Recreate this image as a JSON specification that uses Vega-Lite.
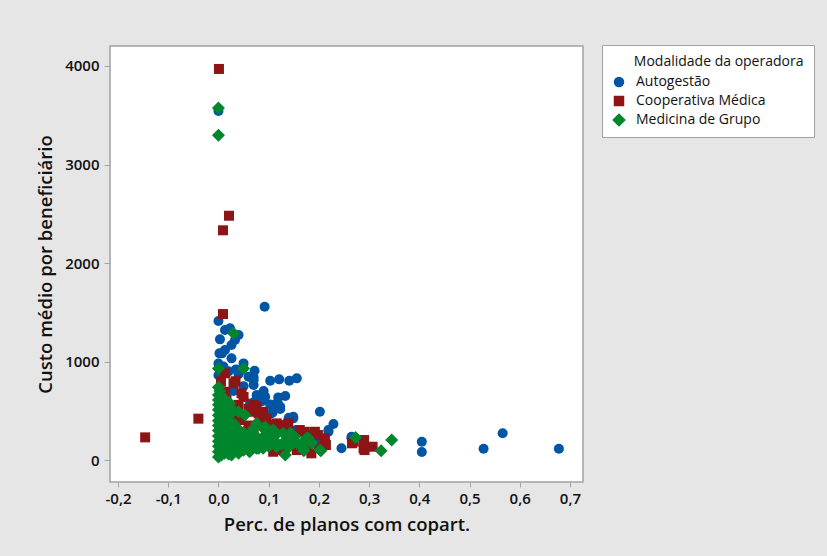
{
  "$schema": "https://vega.github.io/schema/vega-lite/v6.json",
  "width": 473,
  "height": 436,
  "autosize": {"type": "none"},
  "padding": {"left": 110, "top": 46, "right": 244, "bottom": 74},
  "background": "#e6e6e6",
  "config": {
    "font": "Open Sans",
    "view": {"fill": "white", "stroke": "#a3a3a3", "strokeWidth": 1.5}
  },
  "datasets": {
    "pts": [
      {"x": 0.0, "y": 3543, "m": "Autogestão"},
      {"x": 0.092, "y": 1556, "m": "Autogestão"},
      {"x": 0.0, "y": 1411, "m": "Autogestão"},
      {"x": 0.013, "y": 1320, "m": "Autogestão"},
      {"x": 0.023, "y": 1337, "m": "Autogestão"},
      {"x": 0.04, "y": 1269, "m": "Autogestão"},
      {"x": 0.003, "y": 1225, "m": "Autogestão"},
      {"x": 0.033, "y": 1218, "m": "Autogestão"},
      {"x": 0.013, "y": 1117, "m": "Autogestão"},
      {"x": 0.026, "y": 1168, "m": "Autogestão"},
      {"x": 0.002, "y": 1083, "m": "Autogestão"},
      {"x": 0.007, "y": 1083, "m": "Autogestão"},
      {"x": 0.026, "y": 1032, "m": "Autogestão"},
      {"x": 0.05, "y": 981, "m": "Autogestão"},
      {"x": 0.0, "y": 980, "m": "Autogestão"},
      {"x": 0.072, "y": 906, "m": "Autogestão"},
      {"x": 0.07, "y": 840, "m": "Autogestão"},
      {"x": 0.06, "y": 846, "m": "Autogestão"},
      {"x": 0.07, "y": 812, "m": "Autogestão"},
      {"x": 0.07, "y": 761, "m": "Autogestão"},
      {"x": 0.103, "y": 805, "m": "Autogestão"},
      {"x": 0.121, "y": 819, "m": "Autogestão"},
      {"x": 0.141, "y": 805, "m": "Autogestão"},
      {"x": 0.156, "y": 829, "m": "Autogestão"},
      {"x": 0.076, "y": 660, "m": "Autogestão"},
      {"x": 0.093, "y": 643, "m": "Autogestão"},
      {"x": 0.119, "y": 636, "m": "Autogestão"},
      {"x": 0.133, "y": 650, "m": "Autogestão"},
      {"x": 0.087, "y": 598, "m": "Autogestão"},
      {"x": 0.074, "y": 605, "m": "Autogestão"},
      {"x": 0.103, "y": 565, "m": "Autogestão"},
      {"x": 0.118, "y": 580, "m": "Autogestão"},
      {"x": 0.113, "y": 558, "m": "Autogestão"},
      {"x": 0.123, "y": 541, "m": "Autogestão"},
      {"x": 0.106, "y": 474, "m": "Autogestão"},
      {"x": 0.108, "y": 484, "m": "Autogestão"},
      {"x": 0.123, "y": 518, "m": "Autogestão"},
      {"x": 0.063, "y": 575, "m": "Autogestão"},
      {"x": 0.149, "y": 440, "m": "Autogestão"},
      {"x": 0.149, "y": 423, "m": "Autogestão"},
      {"x": 0.14, "y": 430, "m": "Autogestão"},
      {"x": 0.202, "y": 490, "m": "Autogestão"},
      {"x": 0.229, "y": 365, "m": "Autogestão"},
      {"x": 0.219, "y": 287, "m": "Autogestão"},
      {"x": 0.219, "y": 305, "m": "Autogestão"},
      {"x": 0.245, "y": 119, "m": "Autogestão"},
      {"x": 0.265, "y": 237, "m": "Autogestão"},
      {"x": 0.265, "y": 220, "m": "Autogestão"},
      {"x": 0.405, "y": 186, "m": "Autogestão"},
      {"x": 0.405, "y": 81, "m": "Autogestão"},
      {"x": 0.528, "y": 115, "m": "Autogestão"},
      {"x": 0.566, "y": 271, "m": "Autogestão"},
      {"x": 0.678, "y": 115, "m": "Autogestão"},
      {"x": 0.02, "y": 900, "m": "Autogestão"},
      {"x": 0.04, "y": 870, "m": "Autogestão"},
      {"x": 0.01, "y": 950, "m": "Autogestão"},
      {"x": 0.03, "y": 700, "m": "Autogestão"},
      {"x": 0.05, "y": 750, "m": "Autogestão"},
      {"x": 0.09, "y": 700, "m": "Autogestão"},
      {"x": 0.1, "y": 360, "m": "Autogestão"},
      {"x": 0.18, "y": 250, "m": "Autogestão"},
      {"x": 0.2, "y": 200, "m": "Autogestão"},
      {"x": 0.15, "y": 300, "m": "Autogestão"},
      {"x": 0.0, "y": 860, "m": "Autogestão"},
      {"x": 0.035, "y": 920, "m": "Autogestão"},

      {"x": 0.001, "y": 3970, "m": "Cooperativa Médica"},
      {"x": 0.021, "y": 2480, "m": "Cooperativa Médica"},
      {"x": 0.009, "y": 2332, "m": "Cooperativa Médica"},
      {"x": 0.009, "y": 1482, "m": "Cooperativa Médica"},
      {"x": -0.04, "y": 420, "m": "Cooperativa Médica"},
      {"x": -0.146, "y": 230, "m": "Cooperativa Médica"},
      {"x": 0.034, "y": 800, "m": "Cooperativa Médica"},
      {"x": 0.013, "y": 880, "m": "Cooperativa Médica"},
      {"x": 0.005, "y": 795, "m": "Cooperativa Médica"},
      {"x": 0.013, "y": 693, "m": "Cooperativa Médica"},
      {"x": 0.03, "y": 778, "m": "Cooperativa Médica"},
      {"x": 0.046, "y": 677, "m": "Cooperativa Médica"},
      {"x": 0.05, "y": 640, "m": "Cooperativa Médica"},
      {"x": 0.016, "y": 609, "m": "Cooperativa Médica"},
      {"x": 0.003, "y": 560, "m": "Cooperativa Médica"},
      {"x": 0.02, "y": 520, "m": "Cooperativa Médica"},
      {"x": 0.04, "y": 560, "m": "Cooperativa Médica"},
      {"x": 0.008, "y": 460, "m": "Cooperativa Médica"},
      {"x": 0.03, "y": 450, "m": "Cooperativa Médica"},
      {"x": 0.06, "y": 520, "m": "Cooperativa Médica"},
      {"x": 0.07, "y": 558, "m": "Cooperativa Médica"},
      {"x": 0.076, "y": 540, "m": "Cooperativa Médica"},
      {"x": 0.075, "y": 512, "m": "Cooperativa Médica"},
      {"x": 0.063, "y": 490, "m": "Cooperativa Médica"},
      {"x": 0.089, "y": 490, "m": "Cooperativa Médica"},
      {"x": 0.08, "y": 474, "m": "Cooperativa Médica"},
      {"x": 0.043, "y": 406, "m": "Cooperativa Médica"},
      {"x": 0.089, "y": 406, "m": "Cooperativa Médica"},
      {"x": 0.096, "y": 420, "m": "Cooperativa Médica"},
      {"x": 0.116, "y": 372, "m": "Cooperativa Médica"},
      {"x": 0.139, "y": 372, "m": "Cooperativa Médica"},
      {"x": 0.129, "y": 338, "m": "Cooperativa Médica"},
      {"x": 0.162, "y": 305, "m": "Cooperativa Médica"},
      {"x": 0.172, "y": 287, "m": "Cooperativa Médica"},
      {"x": 0.192, "y": 287, "m": "Cooperativa Médica"},
      {"x": 0.178, "y": 254, "m": "Cooperativa Médica"},
      {"x": 0.198, "y": 254, "m": "Cooperativa Médica"},
      {"x": 0.212, "y": 220, "m": "Cooperativa Médica"},
      {"x": 0.176, "y": 203, "m": "Cooperativa Médica"},
      {"x": 0.214, "y": 152, "m": "Cooperativa Médica"},
      {"x": 0.185, "y": 68, "m": "Cooperativa Médica"},
      {"x": 0.269, "y": 186, "m": "Cooperativa Médica"},
      {"x": 0.289, "y": 186, "m": "Cooperativa Médica"},
      {"x": 0.266, "y": 170, "m": "Cooperativa Médica"},
      {"x": 0.29, "y": 203, "m": "Cooperativa Médica"},
      {"x": 0.289, "y": 119, "m": "Cooperativa Médica"},
      {"x": 0.291, "y": 101, "m": "Cooperativa Médica"},
      {"x": 0.307, "y": 135, "m": "Cooperativa Médica"},
      {"x": 0.109, "y": 84, "m": "Cooperativa Médica"},
      {"x": 0.063, "y": 119, "m": "Cooperativa Médica"},
      {"x": 0.04, "y": 101, "m": "Cooperativa Médica"},
      {"x": 0.156, "y": 101, "m": "Cooperativa Médica"},
      {"x": 0.176, "y": 119, "m": "Cooperativa Médica"},
      {"x": 0.123, "y": 101, "m": "Cooperativa Médica"},
      {"x": 0.05, "y": 135, "m": "Cooperativa Médica"},
      {"x": 0.111, "y": 355, "m": "Cooperativa Médica"},
      {"x": 0.134, "y": 355, "m": "Cooperativa Médica"},
      {"x": 0.124, "y": 305, "m": "Cooperativa Médica"},
      {"x": 0.06, "y": 350, "m": "Cooperativa Médica"},
      {"x": 0.07, "y": 300, "m": "Cooperativa Médica"},
      {"x": 0.02, "y": 300, "m": "Cooperativa Médica"},
      {"x": 0.01, "y": 250, "m": "Cooperativa Médica"},
      {"x": 0.1, "y": 250, "m": "Cooperativa Médica"},
      {"x": 0.14, "y": 200, "m": "Cooperativa Médica"},
      {"x": 0.09, "y": 150, "m": "Cooperativa Médica"},
      {"x": 0.025, "y": 180, "m": "Cooperativa Médica"},
      {"x": 0.06, "y": 220, "m": "Cooperativa Médica"},
      {"x": 0.16, "y": 150, "m": "Cooperativa Médica"},
      {"x": 0.2, "y": 130, "m": "Cooperativa Médica"},

      {"x": 0.0, "y": 3574, "m": "Medicina de Grupo"},
      {"x": 0.0, "y": 3296, "m": "Medicina de Grupo"},
      {"x": 0.03, "y": 1286, "m": "Medicina de Grupo"},
      {"x": 0.0, "y": 930, "m": "Medicina de Grupo"},
      {"x": 0.05, "y": 930, "m": "Medicina de Grupo"},
      {"x": 0.0, "y": 738, "m": "Medicina de Grupo"},
      {"x": 0.273, "y": 230, "m": "Medicina de Grupo"},
      {"x": 0.345, "y": 203, "m": "Medicina de Grupo"},
      {"x": 0.324, "y": 95, "m": "Medicina de Grupo"},
      {"x": 0.204, "y": 95, "m": "Medicina de Grupo"},
      {"x": 0.133, "y": 51, "m": "Medicina de Grupo"},
      {"x": 0.17, "y": 95, "m": "Medicina de Grupo"},
      {"x": 0.023, "y": 68, "m": "Medicina de Grupo"},
      {"x": 0.0, "y": 30, "m": "Medicina de Grupo"},
      {"x": 0.0, "y": 85, "m": "Medicina de Grupo"},
      {"x": 0.0, "y": 140, "m": "Medicina de Grupo"},
      {"x": 0.0, "y": 190, "m": "Medicina de Grupo"},
      {"x": 0.0, "y": 245, "m": "Medicina de Grupo"},
      {"x": 0.0, "y": 300, "m": "Medicina de Grupo"},
      {"x": 0.0, "y": 350, "m": "Medicina de Grupo"},
      {"x": 0.0, "y": 400, "m": "Medicina de Grupo"},
      {"x": 0.0, "y": 455, "m": "Medicina de Grupo"},
      {"x": 0.0, "y": 510, "m": "Medicina de Grupo"},
      {"x": 0.0, "y": 560, "m": "Medicina de Grupo"},
      {"x": 0.0, "y": 610, "m": "Medicina de Grupo"},
      {"x": 0.0, "y": 660, "m": "Medicina de Grupo"},
      {"x": 0.003, "y": 700, "m": "Medicina de Grupo"},
      {"x": 0.006, "y": 50, "m": "Medicina de Grupo"},
      {"x": 0.006, "y": 110, "m": "Medicina de Grupo"},
      {"x": 0.006, "y": 165, "m": "Medicina de Grupo"},
      {"x": 0.006, "y": 220, "m": "Medicina de Grupo"},
      {"x": 0.006, "y": 275, "m": "Medicina de Grupo"},
      {"x": 0.006, "y": 330, "m": "Medicina de Grupo"},
      {"x": 0.006, "y": 385, "m": "Medicina de Grupo"},
      {"x": 0.006, "y": 440, "m": "Medicina de Grupo"},
      {"x": 0.006, "y": 495, "m": "Medicina de Grupo"},
      {"x": 0.006, "y": 545, "m": "Medicina de Grupo"},
      {"x": 0.006, "y": 600, "m": "Medicina de Grupo"},
      {"x": 0.006, "y": 650, "m": "Medicina de Grupo"},
      {"x": 0.012, "y": 70, "m": "Medicina de Grupo"},
      {"x": 0.012, "y": 130, "m": "Medicina de Grupo"},
      {"x": 0.012, "y": 185, "m": "Medicina de Grupo"},
      {"x": 0.012, "y": 240, "m": "Medicina de Grupo"},
      {"x": 0.012, "y": 290, "m": "Medicina de Grupo"},
      {"x": 0.012, "y": 345, "m": "Medicina de Grupo"},
      {"x": 0.012, "y": 400, "m": "Medicina de Grupo"},
      {"x": 0.012, "y": 450, "m": "Medicina de Grupo"},
      {"x": 0.012, "y": 505, "m": "Medicina de Grupo"},
      {"x": 0.012, "y": 555, "m": "Medicina de Grupo"},
      {"x": 0.012, "y": 620, "m": "Medicina de Grupo"},
      {"x": 0.02, "y": 60, "m": "Medicina de Grupo"},
      {"x": 0.02, "y": 120, "m": "Medicina de Grupo"},
      {"x": 0.02, "y": 175, "m": "Medicina de Grupo"},
      {"x": 0.02, "y": 230, "m": "Medicina de Grupo"},
      {"x": 0.02, "y": 285, "m": "Medicina de Grupo"},
      {"x": 0.02, "y": 340, "m": "Medicina de Grupo"},
      {"x": 0.02, "y": 395, "m": "Medicina de Grupo"},
      {"x": 0.02, "y": 450, "m": "Medicina de Grupo"},
      {"x": 0.022, "y": 580, "m": "Medicina de Grupo"},
      {"x": 0.03, "y": 90, "m": "Medicina de Grupo"},
      {"x": 0.03, "y": 150, "m": "Medicina de Grupo"},
      {"x": 0.03, "y": 205, "m": "Medicina de Grupo"},
      {"x": 0.03, "y": 260, "m": "Medicina de Grupo"},
      {"x": 0.03, "y": 315, "m": "Medicina de Grupo"},
      {"x": 0.03, "y": 370, "m": "Medicina de Grupo"},
      {"x": 0.03, "y": 500, "m": "Medicina de Grupo"},
      {"x": 0.04, "y": 70, "m": "Medicina de Grupo"},
      {"x": 0.04, "y": 130, "m": "Medicina de Grupo"},
      {"x": 0.04, "y": 190, "m": "Medicina de Grupo"},
      {"x": 0.04, "y": 250, "m": "Medicina de Grupo"},
      {"x": 0.04, "y": 310, "m": "Medicina de Grupo"},
      {"x": 0.04, "y": 490, "m": "Medicina de Grupo"},
      {"x": 0.05, "y": 100, "m": "Medicina de Grupo"},
      {"x": 0.05, "y": 160, "m": "Medicina de Grupo"},
      {"x": 0.05, "y": 220, "m": "Medicina de Grupo"},
      {"x": 0.05, "y": 280, "m": "Medicina de Grupo"},
      {"x": 0.053, "y": 457, "m": "Medicina de Grupo"},
      {"x": 0.062, "y": 85, "m": "Medicina de Grupo"},
      {"x": 0.062, "y": 145, "m": "Medicina de Grupo"},
      {"x": 0.062, "y": 205, "m": "Medicina de Grupo"},
      {"x": 0.062, "y": 265, "m": "Medicina de Grupo"},
      {"x": 0.07, "y": 322, "m": "Medicina de Grupo"},
      {"x": 0.076, "y": 119, "m": "Medicina de Grupo"},
      {"x": 0.075, "y": 180, "m": "Medicina de Grupo"},
      {"x": 0.075, "y": 240, "m": "Medicina de Grupo"},
      {"x": 0.076, "y": 372, "m": "Medicina de Grupo"},
      {"x": 0.089, "y": 119, "m": "Medicina de Grupo"},
      {"x": 0.088, "y": 170, "m": "Medicina de Grupo"},
      {"x": 0.088, "y": 230, "m": "Medicina de Grupo"},
      {"x": 0.089, "y": 322, "m": "Medicina de Grupo"},
      {"x": 0.093, "y": 338, "m": "Medicina de Grupo"},
      {"x": 0.1, "y": 140, "m": "Medicina de Grupo"},
      {"x": 0.1, "y": 200, "m": "Medicina de Grupo"},
      {"x": 0.1, "y": 260, "m": "Medicina de Grupo"},
      {"x": 0.109, "y": 305, "m": "Medicina de Grupo"},
      {"x": 0.116, "y": 135, "m": "Medicina de Grupo"},
      {"x": 0.113, "y": 190, "m": "Medicina de Grupo"},
      {"x": 0.113, "y": 250, "m": "Medicina de Grupo"},
      {"x": 0.126, "y": 160, "m": "Medicina de Grupo"},
      {"x": 0.129, "y": 271, "m": "Medicina de Grupo"},
      {"x": 0.14, "y": 130, "m": "Medicina de Grupo"},
      {"x": 0.143, "y": 271, "m": "Medicina de Grupo"},
      {"x": 0.14, "y": 200, "m": "Medicina de Grupo"},
      {"x": 0.152, "y": 237, "m": "Medicina de Grupo"},
      {"x": 0.156, "y": 170, "m": "Medicina de Grupo"},
      {"x": 0.166, "y": 170, "m": "Medicina de Grupo"},
      {"x": 0.176, "y": 220, "m": "Medicina de Grupo"},
      {"x": 0.179, "y": 220, "m": "Medicina de Grupo"},
      {"x": 0.186, "y": 170, "m": "Medicina de Grupo"},
      {"x": 0.169, "y": 119, "m": "Medicina de Grupo"},
      {"x": 0.202, "y": 101, "m": "Medicina de Grupo"},
      {"x": 0.026, "y": 51, "m": "Medicina de Grupo"},
      {"x": 0.08, "y": 119, "m": "Medicina de Grupo"}
    ]
  },
  "data": {"name": "pts"},
  "mark": {"type": "point", "filled": true, "opacity": 1, "strokeWidth": 0, "size": 100},
  "encoding": {
    "x": {
      "field": "x",
      "type": "quantitative",
      "scale": {"domain": [-0.216, 0.726], "nice": false, "zero": false},
      "axis": {
        "values": [-0.2, -0.1, 0, 0.1, 0.2, 0.3, 0.4, 0.5, 0.6, 0.7],
        "labelExpr": "replace(replace(format(datum.value, '.1f'), '.', ','), '\u2212', '-')",
        "domain": false,
        "grid": false,
        "tickColor": "#a3a3a3",
        "tickSize": 5,
        "labelFontSize": 15,
        "labelFontWeight": 600,
        "labelColor": "#111111",
        "labelPadding": 4,
        "title": "Perc. de planos com copart.",
        "titleFontSize": 18.5,
        "titleFontWeight": 600,
        "titleColor": "#111111",
        "titlePadding": 9
      }
    },
    "y": {
      "field": "y",
      "type": "quantitative",
      "scale": {"domain": [-223, 4203], "nice": false, "zero": false},
      "axis": {
        "values": [0, 1000, 2000, 3000, 4000],
        "format": "d",
        "domain": false,
        "grid": false,
        "tickColor": "#a3a3a3",
        "tickSize": 6,
        "labelFontSize": 15,
        "labelFontWeight": 600,
        "labelColor": "#111111",
        "labelPadding": 5,
        "title": "Custo médio por beneficiário",
        "titleFontSize": 18.5,
        "titleFontWeight": 600,
        "titleColor": "#111111",
        "titlePadding": 9
      }
    },
    "color": {
      "field": "m",
      "type": "nominal",
      "scale": {
        "domain": ["Autogestão", "Cooperativa Médica", "Medicina de Grupo"],
        "range": ["#0055a5", "#8e1515", "#00862c"]
      },
      "legend": {
        "title": "\u200b\u00a0\u00a0\u00a0\u00a0\u00a0\u00a0Modalidade da operadora",
        "titleLimit": 400,
        "orient": "none",
        "legendX": 492,
        "legendY": -1,
        "fillColor": "white",
        "strokeColor": "#a3a3a3",
        "padding": 10,
        "titleFontSize": 14,
        "titleFontWeight": 500,
        "titleColor": "#111111",
        "titlePadding": 6,
        "labelFontSize": 14,
        "labelColor": "#111111",
        "labelOffset": 10,
        "symbolSize": 110,
        "symbolStrokeWidth": 0,
        "rowPadding": 5
      }
    },
    "shape": {
      "field": "m",
      "type": "nominal",
      "scale": {
        "domain": ["Autogestão", "Cooperativa Médica", "Medicina de Grupo"],
        "range": ["circle", "square", "M-1.3,0L0,-1.3L1.3,0L0,1.3Z"]
      },
      "legend": {
        "title": "\u200b\u00a0\u00a0\u00a0\u00a0\u00a0\u00a0Modalidade da operadora",
        "titleLimit": 400,
        "orient": "none",
        "legendX": 492,
        "legendY": -1,
        "fillColor": "white",
        "strokeColor": "#a3a3a3",
        "padding": 10,
        "titleFontSize": 14,
        "titleFontWeight": 500,
        "titleColor": "#111111",
        "titlePadding": 6,
        "labelFontSize": 14,
        "labelColor": "#111111",
        "labelOffset": 10,
        "symbolSize": 110,
        "symbolStrokeWidth": 0,
        "rowPadding": 5
      }
    }
  }
}
